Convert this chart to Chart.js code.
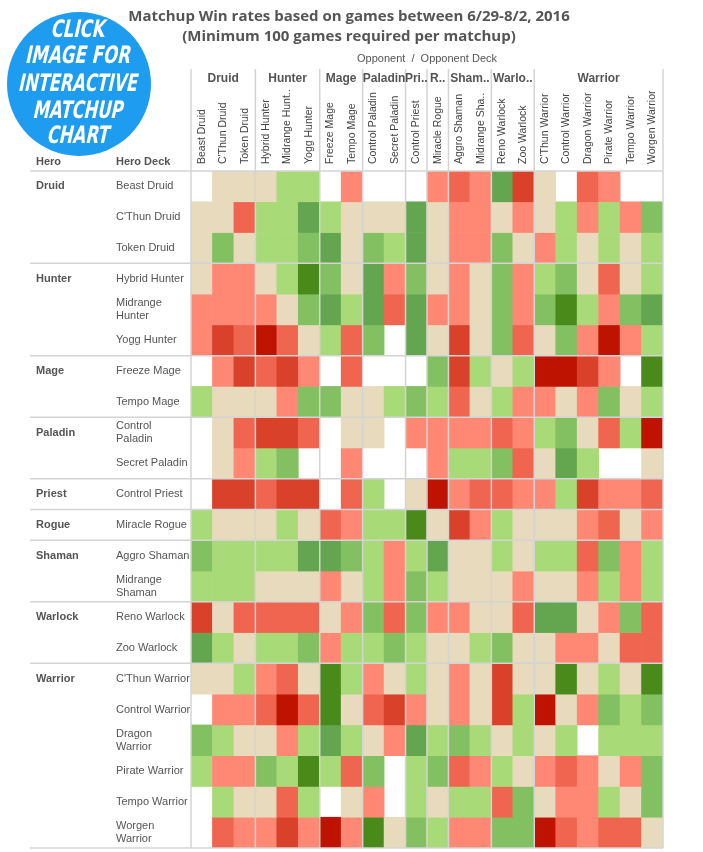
<!DOCTYPE html>
<html>
<head>
<meta charset="utf-8">
<title>Matchup Win rates</title>
<script src="https://cdn.jsdelivr.net/npm/chart.js@4.4.1/dist/chart.umd.min.js"></script>
<style>
    html, body { margin: 0; padding: 0; background: #fff; }
    #wrap { width: 703px; height: 852px; }
</style>
</head>
<body>
<div id="wrap"><canvas id="matchups" width="703" height="852"></canvas></div>
<script>
/* ====== Data ====== */

const opponentDecks = [
    "Beast Druid", "C'Thun Druid", "Token Druid",
    "Hybrid Hunter", "Midrange Hunt..", "Yogg Hunter",
    "Freeze Mage", "Tempo Mage",
    "Control Paladin", "Secret Paladin",
    "Control Priest",
    "Miracle Rogue",
    "Aggro Shaman", "Midrange Sha..",
    "Reno Warlock", "Zoo Warlock",
    "C'Thun Warrior", "Control Warrior", "Dragon Warrior", "Pirate Warrior", "Tempo Warrior", "Worgen Warrior",
];
const opponentClasses = ["Druid", "Hunter", "Mage", "Paladin", "Pri..", "R..", "Sham..", "Warlo..", "Warrior"];
const heroClasses = ["Druid", "Hunter", "Mage", "Paladin", "Priest", "Rogue", "Shaman", "Warlock", "Warrior"];
const classSizes = [3, 3, 2, 2, 1, 1, 2, 2, 6];
const heroDecks = [
    "Beast Druid", "C'Thun Druid", "Token Druid",
    "Hybrid Hunter", "Midrange\nHunter", "Yogg Hunter",
    "Freeze Mage", "Tempo Mage",
    "Control\nPaladin", "Secret Paladin",
    "Control Priest",
    "Miracle Rogue",
    "Aggro Shaman", "Midrange\nShaman",
    "Reno Warlock", "Zoo Warlock",
    "C'Thun Warrior", "Control Warrior", "Dragon\nWarrior", "Pirate Warrior", "Tempo Warrior", "Worgen\nWarrior",
];

// win rate (%) of the hero deck vs each opponent deck, null = under 100 games
const beastDruid     = [null, 50, 50, 50, 52, 52, null, 48, null, null, null, 48, 45, 48, 58, 42, 50, null, 45, 48, null, null];
const cthunDruid     = [50, 50, 45, 52, 52, 58, 52, 50, 50, 50, 58, 50, 48, 48, 50, 48, 50, 52, 48, 52, 48, 55];
const tokenDruid     = [50, 55, 50, 52, 52, 55, 58, 50, 55, 52, 58, 50, 48, 48, 55, 50, 48, 52, 50, 52, 50, 52];
const hybridHunter   = [50, 48, 48, 50, 52, 62, 55, 50, 58, 48, 55, 50, 48, 50, 55, 48, 52, 55, 50, 45, 50, 52];
const midrangeHunter = [48, 48, 48, 48, 50, 55, 58, 52, 58, 45, 58, 48, 48, 50, 55, 48, 55, 62, 52, 48, 55, 58];
const yoggHunter     = [48, 42, 45, 38, 45, 50, 52, 45, 55, null, 58, 50, 42, 50, 55, 45, 50, 55, 48, 38, 48, 52];
const freezeMage     = [null, 48, 42, 45, 42, 48, null, 45, null, null, null, 55, 42, 52, 50, 52, 38, 38, 42, 48, null, 62];
const tempoMage      = [52, 50, 50, 50, 48, 55, 55, 50, 50, 52, 55, 52, 45, 50, 52, 48, 48, 50, 48, 55, 50, 52];
const controlPaladin = [null, 50, 45, 42, 42, 45, null, 50, 50, null, 48, 48, 48, 48, 45, 48, 52, 55, 50, 45, 52, 38];
const secretPaladin  = [null, 50, 48, 52, 55, null, null, 48, null, null, null, 48, 52, 52, 55, 45, 50, 58, 52, null, null, 50];
const controlPriest  = [null, 42, 42, 45, 42, 42, null, 45, 52, null, 50, 38, 48, 45, 45, 48, 48, 52, 42, 48, 48, 45];
const miracleRogue   = [52, 50, 50, 50, 52, 50, 45, 48, 52, 52, 62, 50, 42, 48, 52, 50, 50, 50, 48, 45, 50, 48];
const aggroShaman    = [55, 52, 52, 52, 52, 58, 58, 55, 52, 48, 52, 58, 50, 50, 52, 50, 52, 52, 45, 55, 48, 52];
const midrangeShaman = [52, 52, 52, 50, 50, 50, 48, 50, 52, 48, 55, 52, 50, 50, 50, 48, 50, 50, 48, 52, 48, 52];
const renoWarlock    = [42, 50, 45, 45, 45, 45, 50, 48, 55, 45, 55, 48, 48, 50, 50, 45, 58, 58, 50, 48, 55, 45];
const zooWarlock     = [58, 52, 50, 52, 52, 55, 48, 52, 52, 55, 52, 50, 50, 52, 55, 50, 50, 48, 48, 50, 45, 45];
const cthunWarrior   = [50, 50, 52, 48, 45, 50, 62, 52, 48, 50, 52, 50, 48, 50, 42, 50, 50, 62, 50, 52, 50, 62];
const controlWarrior = [null, 48, 48, 45, 38, 45, 62, 50, 45, 42, 48, 50, 48, 50, 42, 52, 38, 50, 48, 55, 52, 55];
const dragonWarrior  = [55, 52, 50, 50, 48, 52, 58, 52, 50, 48, 58, 52, 55, 52, 50, 52, 50, 52, null, 52, 52, 52];
const pirateWarrior  = [52, 48, 48, 55, 52, 62, 52, 45, 55, null, 52, 55, 45, 48, 52, 50, 48, 45, 48, 50, 48, 55];
const tempoWarrior   = [null, 52, 50, 50, 45, 52, null, 50, 48, null, 52, 50, 52, 52, 45, 55, 50, 48, 48, 52, 50, 55];
const worgenWarrior  = [null, 45, 48, 48, 42, 48, 38, 48, 62, 50, 55, 52, 48, 48, 55, 55, 38, 45, 48, 45, 45, 50];

const winRates = [
    beastDruid, cthunDruid, tokenDruid,
    hybridHunter, midrangeHunter, yoggHunter,
    freezeMage, tempoMage,
    controlPaladin, secretPaladin,
    controlPriest,
    miracleRogue,
    aggroShaman, midrangeShaman,
    renoWarlock, zooWarlock,
    cthunWarrior, controlWarrior, dragonWarrior, pirateWarrior, tempoWarrior, worgenWarrior,
];

// colour bins: upper bound of win rate -> colour
const binLimits = [40, 43.5, 46.5, 49, 51, 53.5, 56.5, 60, Infinity];
const binColors = ["#BD1300", "#D9412A", "#F0654F", "#FF8875", "#E8DABD", "#A9DA78", "#83C062", "#64A550", "#4A8A1B"];

const colorFor = (v) => {
    if (v === null) return "rgba(0,0,0,0)";
    const i = binLimits.findIndex((limit) => v < limit);
    return binColors[i];
};

// running start index of every class group
const groupStarts = classSizes.reduce((acc, n) => {
    acc.push(acc[acc.length - 1] + n);
    return acc;
}, [0]);

/* ====== Frame, labels and logo ====== */

const TEXT = "#555555";
const GRID = "#D4D4D4";
const LABEL_FONT = "'Liberation Sans', Arial, sans-serif";

const matchupFrame = {
    id: "matchupFrame",
    beforeDraw(chart) {
        const ctx = chart.ctx;
        ctx.save();
        ctx.fillStyle = "#fff";
        ctx.fillRect(0, 0, chart.width, chart.height);
        ctx.restore();
    },
    afterDatasetsDraw(chart) {
        const { ctx, chartArea, scales } = chart;
        const x = scales.x;
        const y = scales.y;
        const colEdge = (i) => x.getPixelForValue(i - 0.5);
        const rowEdge = (i) => y.getPixelForValue(i);
        const headerTop = 69;
        const labelLeft = 30;

        ctx.save();

        // separators
        ctx.strokeStyle = GRID;
        ctx.lineWidth = 1.5;
        groupStarts.forEach((c) => {
            const px = colEdge(c);
            ctx.beginPath();
            ctx.moveTo(px, headerTop);
            ctx.lineTo(px, chartArea.bottom);
            ctx.stroke();
        });
        groupStarts.forEach((r) => {
            const py = rowEdge(r);
            ctx.beginPath();
            ctx.moveTo(labelLeft, py);
            ctx.lineTo(colEdge(opponentDecks.length), py);
            ctx.stroke();
        });

        // title
        ctx.fillStyle = TEXT;
        ctx.textAlign = "center";
        ctx.textBaseline = "middle";
        ctx.font = "bold 15px 'Open Sans', sans-serif";
        ctx.fillText("Matchup Win rates based on games between 6/29-8/2, 2016", 349, 17);
        ctx.fillText("(Minimum 100 games required per matchup)", 349, 37);

        // opponent headers
        ctx.font = `11px ${LABEL_FONT}`;
        ctx.fillText("Opponent  /  Opponent Deck", (colEdge(0) + colEdge(opponentDecks.length)) / 2, 59);

        ctx.font = `bold 12px ${LABEL_FONT}`;
        opponentClasses.forEach((name, g) => {
            const cx = (colEdge(groupStarts[g]) + colEdge(groupStarts[g + 1])) / 2;
            ctx.fillText(name, cx, 79);
        });

        ctx.font = `10.5px ${LABEL_FONT}`;
        ctx.fillStyle = "#444";
        ctx.textAlign = "left";
        opponentDecks.forEach((name, i) => {
            ctx.save();
            ctx.translate(x.getPixelForValue(i), 164);
            ctx.rotate(-Math.PI / 2);
            ctx.fillText(name, 0, 0);
            ctx.restore();
        });

        // hero headers
        ctx.fillStyle = TEXT;
        ctx.font = `bold 11px ${LABEL_FONT}`;
        ctx.fillText("Hero", 36, 162);
        ctx.fillText("Hero Deck", 116, 162);

        heroClasses.forEach((name, g) => {
            const r = groupStarts[g];
            ctx.fillText(name, 36, (rowEdge(r) + rowEdge(r + 1)) / 2);
        });

        ctx.font = `11px ${LABEL_FONT}`;
        heroDecks.forEach((name, r) => {
            const cy = (rowEdge(r) + rowEdge(r + 1)) / 2;
            const lines = name.split("\n");
            lines.forEach((line, k) => {
                ctx.fillText(line, 116, cy + (k - (lines.length - 1) / 2) * 13);
            });
        });

        // logo
        ctx.fillStyle = "#1E9CF0";
        ctx.beginPath();
        ctx.arc(79, 84, 72, 0, Math.PI * 2);
        ctx.fill();

        ctx.fillStyle = "#fff";
        ctx.textAlign = "center";
        ctx.font = "bold 24px 'DejaVu Sans Condensed', 'DejaVu Sans', sans-serif";
        [
            ["CLICK", 31, 54],
            ["IMAGE FOR", 57, 105],
            ["INTERACTIVE", 85, 119],
            ["MATCHUP", 112, 90],
            ["CHART", 137, 62],
        ].forEach(([text, ty, w]) => {
            const m = ctx.measureText(text).width;
            ctx.save();
            ctx.translate(78.5, ty);
            ctx.transform(1, 0, -0.22, 1, 0, 0);
            ctx.scale(w / m, 1);
            ctx.fillText(text, 0, 0);
            ctx.restore();
        });

        ctx.restore();
    },
};

/* ====== Heatmap ====== */

function createMatchupChart(ctxId) {
    const ctx = document.getElementById(ctxId).getContext("2d");

    const datasets = winRates.map((row, r) => ({
        label: heroDecks[r].replace("\n", " "),
        data: row.map((v) => (v === null ? null : [r, r + 1])),
        backgroundColor: row.map(colorFor),
        borderWidth: 0,
        grouped: false,
        categoryPercentage: 1,
        barPercentage: 1,
    }));

    return new Chart(ctx, {
        type: "bar",
        data: {
            labels: opponentDecks,
            datasets,
        },
        options: {
            responsive: false,
            animation: false,
            layout: { padding: { left: 191, top: 171, right: 40, bottom: 4 } },
            plugins: {
                legend: { display: false },
                tooltip: { enabled: false },
                title: { display: false },
            },
            scales: {
                x: { display: false, grid: { display: false } },
                y: {
                    display: false,
                    min: 0,
                    max: heroDecks.length,
                    reverse: true,
                    grid: { display: false },
                },
            },
        },
        plugins: [matchupFrame],
    });
}

createMatchupChart("matchups");
</script>
</body>
</html>
